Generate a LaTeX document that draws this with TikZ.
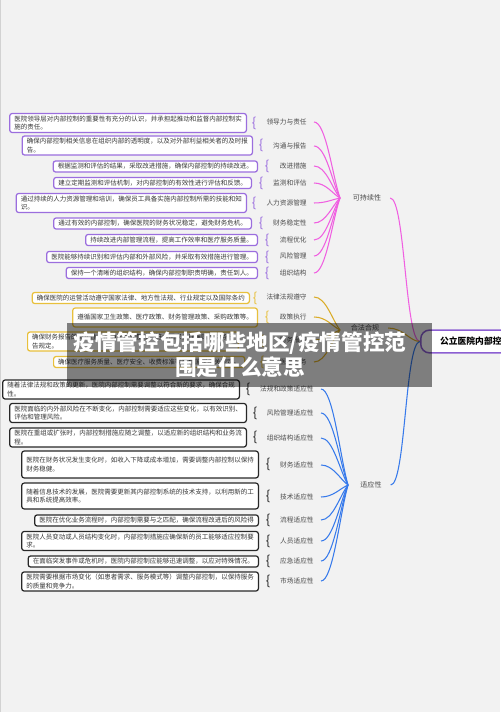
\documentclass[tikz,border=0pt]{standalone}
\usepackage{fontspec}
\setmainfont{Noto Sans CJK SC}
\usepackage{xcolor}
\usetikzlibrary{calc}
\definecolor{fondo}{RGB}{242,242,242}
\definecolor{texto}{RGB}{55,55,55}
\definecolor{etiq}{RGB}{75,75,75}
\definecolor{morado}{RGB}{155,110,222}
\definecolor{rosa}{RGB}{240,95,225}
\definecolor{amarillo}{RGB}{232,192,60}
\definecolor{oro}{RGB}{218,172,40}
\definecolor{negro}{RGB}{40,40,40}
\definecolor{azul}{RGB}{55,122,235}
\definecolor{moradoRaiz}{RGB}{140,95,210}

\begin{document}
\begin{tikzpicture}[x=0.02cm, y=-0.02cm,
    every node/.style={font=\fontsize{3.7}{4.6}\selectfont, text=texto},
    caja/.style={draw, fill=white, rounded corners=1.4pt, line width=0.7pt, align=left, anchor=east, inner xsep=2.6pt, inner ysep=1.4pt},
    cajaMorada/.style={caja, draw=morado},
    cajaAmarilla/.style={caja, draw=amarillo},
    cajaNegra/.style={caja, draw=negro},
    llave/.style={font=\fontsize{7.5}{8}\selectfont, inner sep=0pt},
    etiqueta/.style={anchor=east, inner xsep=4pt, inner ysep=1pt, text=etiq, font=\fontsize{3.8}{4.6}\selectfont},
    centro/.style={inner xsep=5pt, inner ysep=1pt, text=etiq, font=\fontsize{4}{4.8}\selectfont},
    rama/.style={line width=0.6pt, to path={.. controls +(12,0) and ($(\tikztotarget)!0.3!(\tikztostart)$) .. (\tikztotarget)}},
    raiz/.style={draw=moradoRaiz, fill=white, line width=0.85pt, rounded corners=5pt, minimum height=13pt, minimum width=62pt, inner xsep=6pt, text=black, font=\fontsize{5}{6}\selectfont\bfseries}
]
\useasboundingbox (0,0) rectangle (500,712);
\fill[fondo] (0,0) rectangle (500,712);
\draw[gray!35, line width=0.8pt] (0.7,0) -- (0.7,712);

% Puntos de convergencia
\coordinate (pSost) at (340,198);
\coordinate (pLegal) at (340,330);
\coordinate (pAdapt) at (348,485);

% Cajas moradas
\node[cajaMorada] (m1) at (247,123) {医院领导层对内部控制的重要性有充分的认识，并承担起推动和监督内部控制实\\施的责任。};
\node[cajaMorada] (m2) at (253,145.5) {确保内部控制相关信息在组织内部的透明度，以及对外部利益相关者的及时报\\告。};
\node[cajaMorada] (m3) at (258,166.5) {根据监测和评估的结果，采取改进措施，确保内部控制的持续改进。};
\node[cajaMorada] (m4) at (252,183) {建立定期监测和评估机制，对内部控制的有效性进行评估和反馈。};
\node[cajaMorada] (m5) at (247,203) {通过持续的人力资源管理和培训，确保员工具备实施内部控制所需的技能和知\\识。};
\node[cajaMorada] (m6) at (252,223.5) {通过有效的内部控制，确保医院的财务状况稳定，避免财务危机。};
\node[cajaMorada] (m7) at (258,240) {持续改进内部管理流程，提高工作效率和医疗服务质量。};
\node[cajaMorada] (m8) at (258,257) {医院能够持续识别和评估内部和外部风险，并采取有效措施进行管理。};
\node[cajaMorada] (m9) at (258,273) {保持一个清晰的组织结构，确保内部控制职责明确，责任到人。};
% Llaves moradas
\node[llave, text=morado] at (254,123) {\{};
\node[llave, text=morado] at (261,145.5) {\{};
\node[llave, text=morado] at (267,166.5) {\{};
\node[llave, text=morado] at (261,183) {\{};
\node[llave, text=morado] at (254,203) {\{};
\node[llave, text=morado] at (261,223.5) {\{};
\node[llave, text=morado] at (267,240) {\{};
\node[llave, text=morado] at (267,257) {\{};
\node[llave, text=morado] at (267,273) {\{};
% Etiquetas moradas
\node[etiqueta] (em1) at (314,122) {领导力与责任};
\node[etiqueta] (em2) at (314,146) {沟通与报告};
\node[etiqueta] (em3) at (314,166) {改进措施};
\node[etiqueta] (em4) at (314,183) {监测和评估};
\node[etiqueta] (em5) at (314,203) {人力资源管理};
\node[etiqueta] (em6) at (314,223) {财务稳定性};
\node[etiqueta] (em7) at (314,240) {流程优化};
\node[etiqueta] (em8) at (314,256) {风险管理};
\node[etiqueta] (em9) at (314,273) {组织结构};
\node[centro] (sost) at (367,198) {可持续性};
% Ramas rosas
\draw[rama, rosa] (em1.east) to (pSost);
\draw[rama, rosa] (em2.east) to (pSost);
\draw[rama, rosa] (em3.east) to (pSost);
\draw[rama, rosa] (em4.east) to (pSost);
\draw[rama, rosa] (em5.east) to (pSost);
\draw[rama, rosa] (em6.east) to (pSost);
\draw[rama, rosa] (em7.east) to (pSost);
\draw[rama, rosa] (em8.east) to (pSost);
\draw[rama, rosa] (em9.east) to (pSost);

% Cajas amarillas
\node[cajaAmarilla] (a1) at (250,298) {确保医院的运营活动遵守国家法律、地方性法规、行业规定以及国际条约};
\node[cajaAmarilla, minimum height=10.8pt] (a2) at (258,317.5) {遵循国家卫生政策、医疗政策、财务管理政策、采购政策等。};
\node[cajaAmarilla, anchor=west] (a3) at (27,341.5) {确保财务报告的真实性、准确性和完整性，符合国家会计准则和财务报\\告规定。};
\node[cajaAmarilla, anchor=west] (a4) at (53,362) {确保医疗服务质量、医疗安全、收费标准等符合国家相关规定。};
% Llaves amarillas
\node[llave, text=amarillo] at (255,298) {\{};
\node[llave, text=amarillo] at (267,317.5) {\{};
\node[llave, text=amarillo] at (262,341.5) {\{};
\node[llave, text=amarillo] at (262,362) {\{};
% Etiquetas amarillas
\node[etiqueta] (ea1) at (314,297) {法律法规遵守};
\node[etiqueta] (ea2) at (314,317) {政策执行};
\node[etiqueta] (ea3) at (314,340) {财务报告};
\node[etiqueta] (ea4) at (314,362) {医疗服务};
\node[centro] (legal) at (365,328) {合法合规};
% Ramas amarillas
\draw[rama, oro] (ea1.east) to (pLegal);
\draw[rama, oro] (ea2.east) to (pLegal);
\draw[rama, oro] (ea3.east) to (pLegal);
\draw[rama, oro] (ea4.east) to (pLegal);

% Cajas negras
\node[cajaNegra] (n1) at (240,389.5) {随着法律法规和政策的更新，医院内部控制需要调整以符合新的要求，确保合规\\性。};
\node[cajaNegra] (n2) at (247,413) {医院面临的内外部风险在不断变化，内部控制需要适应这些变化，以有效识别、\\评估和管理风险。};
\node[cajaNegra] (n3) at (247,437.5) {医院在重组或扩张时，内部控制措施应随之调整，以适应新的组织结构和业务流\\程。};
\node[cajaNegra, minimum height=15.3pt] (n4) at (259,464.5) {医院在财务状况发生变化时，如收入下降或成本增加，需要调整内部控制以保持\\财务稳健。};
\node[cajaNegra, minimum height=14.7pt] (n5) at (259,496) {随着信息技术的发展，医院需要更新其内部控制系统的技术支持，以利用新的工\\具和系统提高效率。};
\node[cajaNegra] (n6) at (259,520.5) {医院在优化业务流程时，内部控制需要与之匹配，确保流程改进后的风险得};
\node[cajaNegra] (n7) at (259,541) {医院人员变动或人员结构变化时，内部控制措施应确保新的员工能够适应控制要\\求。};
\node[cajaNegra] (n8) at (259,561.5) {在面临突发事件或危机时，医院内部控制应能够迅速调整，以应对特殊情况。};
\node[cajaNegra] (n9) at (259,581.5) {医院需要根据市场变化（如患者需求、服务模式等）调整内部控制，以保持服务\\的质量和竞争力。};
% Llaves negras
\node[llave, text=negro] at (248,389.5) {\{};
\node[llave, text=negro] at (255,413) {\{};
\node[llave, text=negro] at (255,437.5) {\{};
\node[llave, text=negro] at (268,464.5) {\{};
\node[llave, text=negro] at (268,496) {\{};
\node[llave, text=negro] at (268,520.5) {\{};
\node[llave, text=negro] at (268,541) {\{};
\node[llave, text=negro] at (268,561.5) {\{};
\node[llave, text=negro] at (268,581.5) {\{};
% Etiquetas azules
\node[etiqueta] (en1) at (321,389) {法规和政策适应性};
\node[etiqueta] (en2) at (321,413) {风险管理适应性};
\node[etiqueta] (en3) at (321,438) {组织结构适应性};
\node[etiqueta] (en4) at (321,465) {财务适应性};
\node[etiqueta] (en5) at (321,497) {技术适应性};
\node[etiqueta] (en6) at (321,520) {流程适应性};
\node[etiqueta] (en7) at (321,541) {人员适应性};
\node[etiqueta] (en8) at (321,561) {应急适应性};
\node[etiqueta] (en9) at (321,581) {市场适应性};
\node[centro] (adapt) at (371,485) {适应性};
% Ramas azules
\draw[rama, azul] (en1.east) to (pAdapt);
\draw[rama, azul] (en2.east) to (pAdapt);
\draw[rama, azul] (en3.east) to (pAdapt);
\draw[rama, azul] (en4.east) to (pAdapt);
\draw[rama, azul] (en5.east) to (pAdapt);
\draw[rama, azul] (en6.east) to (pAdapt);
\draw[rama, azul] (en7.east) to (pAdapt);
\draw[rama, azul] (en8.east) to (pAdapt);
\draw[rama, azul] (en9.east) to (pAdapt);

% Raiz
\node[raiz, anchor=west] (raiz) at (420,341.5) {公立医院内部控制};
\draw[rosa, line width=0.6pt] (sost.east) .. controls +(15,0) and +(-15,0) .. (raiz.west);
\draw[oro, line width=0.6pt] (legal.east) .. controls +(15,0) and +(-10,0) .. (raiz.west);
\draw[azul, line width=0.6pt] (adapt.east) .. controls +(15,0) and +(-15,0) .. (raiz.west);

% Titulo encima
\fill[black, opacity=0.48] (67,323) rectangle (432,387);
\node[text=white, align=center, font=\fontsize{12.3}{14.2}\selectfont\bfseries] (titulo) at (240,355) {疫情管控包括哪些地区/疫情管控范\\围是什么意思};
\end{tikzpicture}
\end{document}
